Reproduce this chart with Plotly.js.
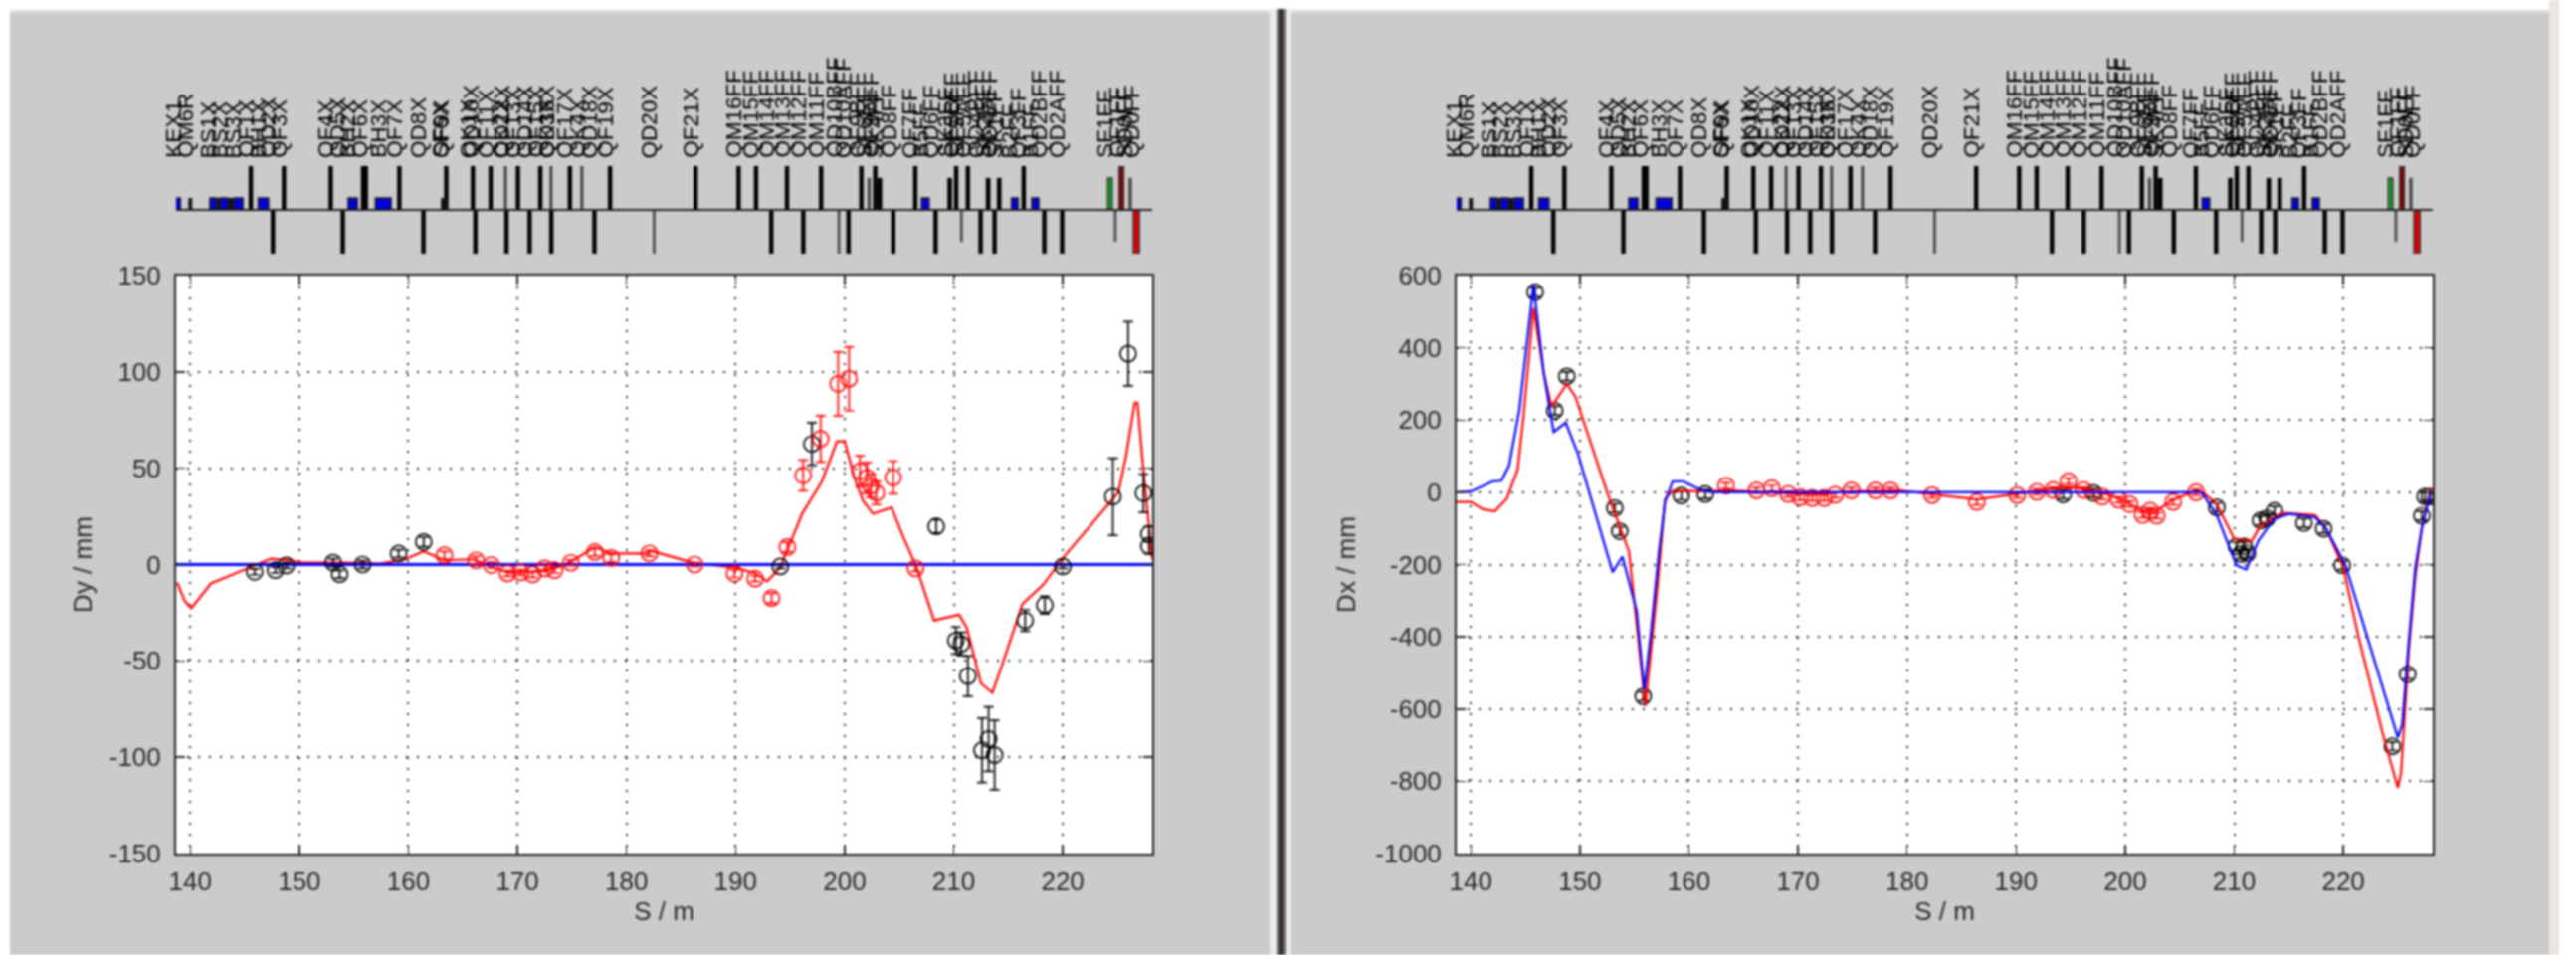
<!DOCTYPE html>
<html><head><meta charset="utf-8">
<script src="https://cdn.plot.ly/plotly-3.0.1.min.js"></script>
<style>html,body{margin:0;padding:0;background:#fff;overflow:hidden}#c{width:2589px;height:960px;filter:blur(0.9px)}</style>
</head><body><div id="c"></div>
<script>
// ---- beamline elements (S in m) ----
const elemNames = ["KEX1","QM6R","BS1X","BS2X","BS3X","QF1X","BH1X","QD2X","QF3X","QF4X","QD5X","BH2X","QF6X","BH3X","QF7X","QD8X","SF6X","QF9X",
 "QK1X","QD10X","QF11X","QK2X","QD12X","QF13X","QD14X","QF15X","QK3X","QD16X","QF17X","QK4X","QD18X","QF19X","QD20X","QF21X",
 "QM16FF","QM15FF","QM14FF","QM13FF","QM12FF","QM11FF","QD10BFF","QD10AFF","QF9BFF","SF6FF","QF9AFF","SK4FF","QD8FF","QF7FF","B5FF","QD6FF","SK3FF","QF5BFF","SF5FF","QF5AFF","QD4BFF","SK2FF","QD4AFF","SK1FF","B2FF","QF3FF","B1FF","QD2BFF","QD2AFF","SF1FF","QF1FF","SD0FF","QD0FF"];
const elemS = [138.85,140,142.1,143.1,144.4,145.55,146.7,147.57,148.58,152.88,153.99,154.9,155.97,157.7,159.17,161.38,163.3,163.47,
 165.91,166.14,167.54,168.91,169.0,170.05,171.12,172.1,173.08,173.11,174.81,175.91,177.06,178.49,182.53,186.34,
 190.28,191.88,193.28,194.72,196.21,197.84,199.47,200.35,201.53,202.24,202.8,203.22,204.46,206.48,207.4,208.34,209.64,210.23,210.71,211.3,212.47,213.16,213.75,214.17,215.6,216.42,217.48,218.31,219.94,224.33,225.38,226.19,226.75];

const upTallS = [145.55,148.58,152.88,155.85,156.1,159.17,163.47,165.91,167.54,170.05,172.1,174.81,178.49,186.34,190.28,191.88,194.72,197.84,201.53,202.8,206.48,210.23,211.3,216.42];
const upThinS = [168.91,173.08,175.91];
const upMedS = [203.22,209.64,213.16,214.17];
const upMedGreyS = [202.24,226.19];
const downTallS = [147.57,153.99,161.38,166.14,169.0,171.12,173.11,177.06,193.28,196.21,200.35,204.46,208.34,212.47,213.75,218.31,219.94];
const downThinS = [182.53,199.47];
const downMedS = [210.71,224.82];
const dipoleS = [138.85,142.1,143.1,144.4,146.7,154.9,157.7,207.4,215.6,217.48];
const dipoleW = [0.5,0.6,0.7,0.85,0.95,0.85,1.45,0.7,0.6,0.65];
const shortBlackS = [140,143.3,163.25];
const shortBlackW = [0.35,3.1,0.55];
const greenS = [224.33], darkRedS = [225.38], redS = [226.75];

// ---- Dy panel ----
const dyLineS = [138.8,139.5,140.1,140.8,141.9,143.4,144.9,146.3,147.4,149.1,150.2,154,157.4,159.7,161.4,163.3,166,167.6,169.1,171.4,173.4,174.9,177.1,178.6,181.9,182.1,186.25,189.9,191.8,192.9,194.1,194.9,196.1,197.9,199.3,200,200.9,201.7,202.6,204.3,205.4,206.6,208.2,210.5,211.2,212.5,213.55,214.4,216.3,218.2,220,225.1,225.8,226.6,226.85,227.35,228.2];
const dyLineV = [-9.3,-19,-22.6,-17.5,-9.8,-6.3,-2.9,0.5,3,2.2,1,1,0.5,2.7,6.9,2.2,2.7,-1.2,-4.1,-3.8,-2,1.4,9,5.7,5.7,7.3,0.7,-1.5,-4.5,-8.7,-1.5,9.6,26.3,43,64,64,45,33,26.3,29.6,14,-1.5,-29,-26,-32.7,-61.7,-66.6,-52.8,-20.5,-10.5,3.3,37.4,56.3,84,84,52,3];
const dyZeroS = [138.7,228.2];
const dyZeroV = [0,0];
const dyBlackS = [145.9,147.8,148.8,153.1,153.7,155.8,159.1,161.4,194.1,197,208.4,210.2,210.7,211.3,212.6,213.2,213.75,216.55,218.35,220,224.6,226,227.4,227.9,227.9];
const dyBlackV = [-3.8,-2.9,-0.5,1,-5,0,5.7,11.7,-1,62.6,19.8,-39.4,-41.2,-57.9,-96.4,-90.6,-98.9,-29,-21,-1,35.2,109.4,37,15.8,9.6];
const dyBlackE = [1.5,1.5,1.5,2,2,2,2,2.5,1,11,3.5,7,6,10.5,16.7,16.7,18,5.5,4.5,1,20,16.7,10,4,4];
const dyRedS = [163.3,166.2,167.6,169.1,170.3,171.4,172.5,173.4,174.9,177.1,178.6,182.1,186.25,189.9,191.8,193.3,194.75,196.2,197.8,199.4,200.4,201.4,202.05,202.4,202.9,204.45,206.5];
const dyRedV = [4.8,2.2,-0.3,-4.6,-4.1,-5.1,-2,-2.9,0.9,6.5,3.4,5.8,0,-4.7,-7.3,-17.4,9.1,46.3,65.3,93.8,96.4,48.5,45,40.8,37.2,45.2,-2];
const dyRedE = [2,2,1.5,1.5,1.5,1.5,1.5,1.5,1.5,2,2,1.5,1,2,1.5,2.5,2.5,8,12,16.5,16.5,8,8,6,6,8.5,1.5];

// ---- Dx panel ----
const dxRedLineS = [138.7,140,141.1,142.2,143.3,144.3,144.8,145.75,146.7,147.4,148.8,149.6,152.6,154.5,156,157.1,157.8,158.55,161.5,163.75,171.2,174.9,179.3,182.3,186.4,190,194.8,198,199.6,201.6,202.9,204.4,206.5,207.2,208.4,210,211.6,212.4,214.4,217.4,218.4,220,221.4,223.6,225,225.3,226,226.6,227.2,228];
const dxRedLineV = [-27,-27,-47,-53,-18,64,200,510,328,237,300,264,-9,-164,-592,-264,-18,5,2,5,-7,2,5,-5,-20,-5,16,-2,-20,-51,-51,-20,4,-2,-33,-129,-135,-93,-57,-63,-99,-208,-401,-667,-818,-775,-437,-232,-99,10];
const dxBlueLineS = [138.7,140,142,142.8,143.5,144.45,145.75,146.7,147.6,148.7,149.8,153,153.9,155.2,155.9,156.5,157.25,157.8,158.5,159.5,161.15,162.3,207,208.4,210.2,211.1,212.2,213.6,215,217.4,218.4,220.2,225,225.4,226,226.6,227.2,228];
const dxBlueLineV = [0,2,30,32,73,228,574,328,167,193,109,-221,-178,-328,-547,-392,-164,-27,30,30,5,0,0,-63,-202,-214,-135,-75,-60,-69,-99,-202,-679,-643,-413,-208,-99,-2];
const dxBlackS = [145.9,147.7,148.8,153.2,153.65,155.8,159.3,161.5,194.3,197.1,208.4,210.2,210.9,210.6,211.2,212.4,213,213.7,216.4,218.2,219.9,224.5,225.9,227.2,227.5,227.9];
const dxBlackV = [554,226,321,-44,-108,-565,-9,-5,-6,-2,-42,-150,-150,-171,-169,-78,-72,-51,-85,-101,-202,-703,-504,-65,-12,-12];
const dxRedS = [163.4,166.2,167.6,169.1,170.2,171.3,172.4,173.4,174.9,177.1,178.5,182.3,186.4,190.1,191.9,193.4,194.8,196.2,197.9,199.4,200.4,201.6,202.3,202.9,204.4,206.5];
const dxRedV = [18,5,11,-5,-14,-16,-16,-7,5,5,5,-8,-27,-8,1,6,31,6,-12,-21,-33,-63,-51,-65,-27,0];

const xTicks = [140,150,160,170,180,190,200,210,220];
const dyTicks = [-150,-100,-50,0,50,100,150];
const dyTickText = ["-150","-100","-50","0","50","100","150"];
const dxTicks = [-1000,-800,-600,-400,-200,0,200,400,600];
const dxTickText = ["-1000","-800","-600","-400","-200","0","200","400","600"];

// ---- layout helpers ----
const W=2589,H=960;
const xRange=[138.7,228.2];
const fx=p=>p/W, fy=p=>1-p/H;
const tfont={family:'"Liberation Sans",Arial,sans-serif',size:26,color:'#2a2a2a'};
const AX='#222';
function mainX(dom,tr){return {domain:[fx(dom[0]),fx(dom[1])],range:xRange,tickmode:'array',tickvals:xTicks,ticks:'inside',ticklen:9,tickcolor:AX,tickwidth:1.5,
  showline:true,mirror:'ticks',linecolor:AX,linewidth:2,showgrid:true,griddash:'2px,9px',gridcolor:'#222',gridwidth:2,zeroline:false,tickfont:tfont,anchor:tr,
  ticklabelstandoff:4,title:{text:'S / m',font:tfont,standoff:5}};}
function mainY(title,range,ticks,text,tr,st){return {domain:[fy(858),fy(277)],range,tickmode:'array',tickvals:ticks,ticktext:text,ticks:'inside',ticklen:9,tickcolor:AX,tickwidth:1.5,
  showline:true,mirror:'ticks',linecolor:AX,linewidth:2,showgrid:true,griddash:'2px,9px',gridcolor:'#222',gridwidth:2,zeroline:false,tickfont:tfont,anchor:tr,
  ticklabelstandoff:8,title:{text:title,font:tfont,standoff:st}};}
function stripX(dom,tr){return {domain:[fx(dom[0]),fx(dom[1])],range:xRange,visible:false,anchor:tr};}
function stripY(tr){return {domain:[fy(255),fy(167)],range:[-1,1],visible:false,anchor:tr};}

function bar(x,h,w,color,xa,ya,line){return {type:'bar',x,y:x.map(()=>h),width:Array.isArray(w)?w:x.map(()=>w),base:0,xaxis:xa,yaxis:ya,
  marker:{color,line:{color:line||color,width:line?1.5:0}},hoverinfo:'skip'};}
function strip(xa,ya){return [
  bar(upTallS,1,0.4,'#000',xa,ya),
  bar(upThinS,1,0.24,'#333',xa,ya),
  bar(upMedS,0.73,0.42,'#000',xa,ya),
  bar(upMedGreyS,0.73,0.3,'#444',xa,ya),
  bar(downTallS,-1,0.4,'#000',xa,ya),
  bar(downThinS,-1,0.24,'#444',xa,ya),
  bar(downMedS,-0.73,0.24,'#444',xa,ya),
  bar(shortBlackS,0.27,shortBlackW,'#111',xa,ya),
  bar(dipoleS,0.27,dipoleW,'#0000d8',xa,ya,'#222'),
  bar(greenS,0.73,0.4,'#10a020',xa,ya,'#333'),
  bar(darkRedS,1,0.42,'#8a0000',xa,ya,'#333'),
  bar(redS,-1,0.55,'#e00000',xa,ya,'#333'),
  {type:'scatter',mode:'lines',x:xRange,y:[0,0],xaxis:xa,yaxis:ya,line:{color:'#222',width:2},hoverinfo:'skip'}
];}
function pts(x,y,e,color,xa,ya){return {type:'scatter',mode:'markers',x,y,xaxis:xa,yaxis:ya,
  marker:{symbol:'circle-open',size:16,color,line:{color,width:1.7}},
  error_y:{type:'data',array:e,visible:true,color,thickness:1.7,width:5},hoverinfo:'skip'};}
function ln(x,y,color,w,xa,ya){return {type:'scatter',mode:'lines',x,y,xaxis:xa,yaxis:ya,line:{color,width:w},hoverinfo:'skip'};}

const traces=[
  ...strip('x3','y3'),...strip('x4','y4'),
  ln(dyLineS,dyLineV,'#ff0000',2.2,'x','y'),
  ln(dyZeroS,dyZeroV,'#0000ff',2.8,'x','y'),
  pts(dyBlackS,dyBlackV,dyBlackE,'#000','x','y'),
  pts(dyRedS,dyRedV,dyRedE,'#ff0000','x','y'),
  pts(dxBlackS,dxBlackV,dxBlackS.map(()=>12),'#000','x2','y2'),
  pts(dxRedS,dxRedV,dxRedS.map(()=>8),'#ff0000','x2','y2'),
  ln(dxRedLineS,dxRedLineV,'#ff0000',2.2,'x2','y2'),
  ln(dxBlueLineS,dxBlueLineV,'#0000ff',2.2,'x2','y2')
];

const lfont={family:'"Liberation Sans",Arial,sans-serif',size:22.5,color:'#000'};
const annos=[];
for(const xr of ['x3','x4']) elemNames.forEach((n,i)=>annos.push({text:n,xref:xr,yref:'paper',x:elemS[i],y:fy(159),xanchor:'center',yanchor:'bottom',
  xshift:-5,textangle:-90,showarrow:false,font:lfont,borderpad:0,borderwidth:0}));

function rect(x0,x1,y0,y1,c){return {type:'rect',xref:'paper',yref:'paper',x0:fx(x0),x1:fx(x1),y0:fy(y1),y1:fy(y0),fillcolor:c,line:{width:0},layer:'below'};}
const shapes=[
  rect(10,1276,11,960,'#cbcbcb'),rect(1298,2562,11,960,'#cbcbcb'),
  rect(10,1276,10,13,'#dedede'),rect(1298,2562,10,13,'#dedede'),
  rect(1276,1298,9,960,'#efeae6'),rect(1283,1292,9,960,'#6a6a6a'),rect(1285.5,1289,9,960,'#2a2a2a'),
  rect(2562,2572,0,960,'#ebe6e2'),
  rect(177,1158,277,858,'#ffffff'),rect(1464,2445,277,858,'#ffffff')
];

const layout={width:W,height:H,autosize:false,margin:{l:0,r:0,t:0,b:0},paper_bgcolor:'#ffffff',plot_bgcolor:'rgba(0,0,0,0)',
  showlegend:false,barmode:'overlay',shapes,annotations:annos,
  xaxis:mainX([177,1158],'y'),yaxis:mainY('Dy / mm',[-150,150],dyTicks,dyTickText,'x',10),
  xaxis2:mainX([1464,2445],'y2'),yaxis2:mainY('Dx / mm',[-1000,600],dxTicks,dxTickText,'x2',12),
  xaxis3:stripX([177,1158],'y3'),yaxis3:stripY('x3'),
  xaxis4:stripX([1464,2445],'y4'),yaxis4:stripY('x4')};
Plotly.newPlot('c',traces,layout,{displayModeBar:false,staticPlot:true});
</script></body></html>
